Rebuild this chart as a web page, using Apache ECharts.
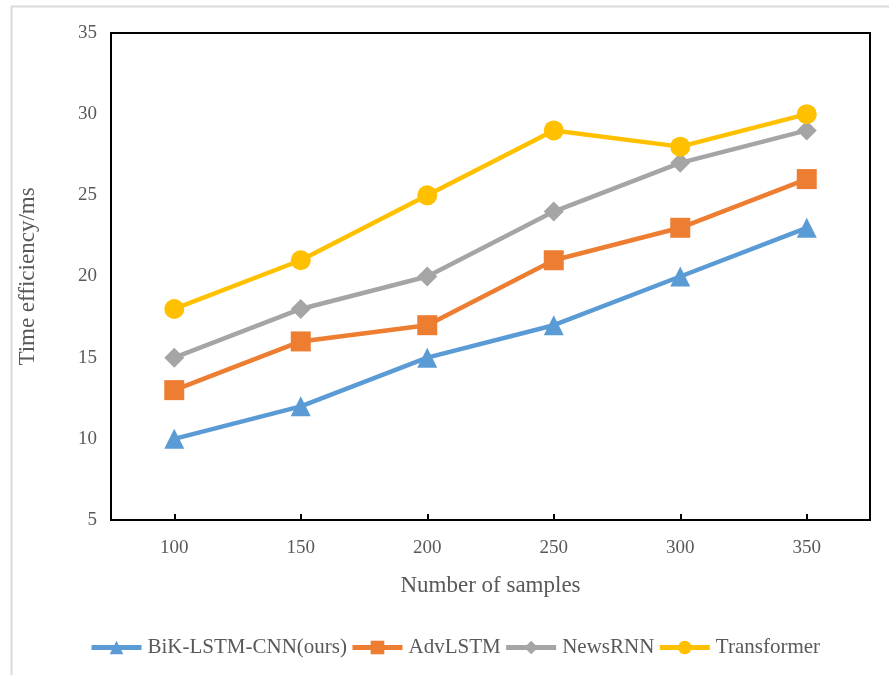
<!DOCTYPE html>
<html>
<head>
<meta charset="utf-8">
<script src="https://cdn.jsdelivr.net/npm/echarts@6/dist/echarts.min.js"></script>
<style>
  html, body { margin: 0; padding: 0; background: #fff; }
  #chart { width: 889px; height: 675px; }
</style>
</head>
<body>
<div id="chart"></div>
<script>
// Sample counts on the x axis
const categories = ['100', '150', '200', '250', '300', '350'];

// Time efficiency (ms) per model
const bikLstmCnn = [10, 12, 15, 17, 20, 23];
const advLstm = [13, 16, 17, 21, 23, 26];
const newsRnn = [15, 18, 20, 24, 27, 29];
const transformer = [18, 21, 25, 29, 28, 30];

const seriesNames = ['BiK-LSTM-CNN(ours)', 'AdvLSTM', 'NewsRNN', 'Transformer'];

const FONT = '"Liberation Serif", "Times New Roman", serif';
const TEXT_COLOR = '#595959';

const chart = echarts.init(document.getElementById('chart'));

function lineSeries(name, data, color, symbol, size) {
  return {
    name: name,
    type: 'line',
    data: data,
    symbol: symbol,
    symbolSize: size,
    lineStyle: { color: color, width: 4.5 },
    itemStyle: { color: color },
    z: 3
  };
}

chart.setOption({
  animation: false,
  backgroundColor: '#fff',
  graphic: [{
    type: 'rect',
    shape: { x: 11.5, y: 6.5, width: 900, height: 700 },
    style: { fill: 'none', stroke: '#d9d9d9', lineWidth: 2 },
    silent: true
  }],
  grid: {
    left: 111, top: 33, right: 19, bottom: 155,
    show: true, borderColor: '#000', borderWidth: 2,
    containLabel: false
  },
  legend: {
    bottom: 17,
    left: 89,
    padding: 0,
    itemWidth: 50,
    itemHeight: 17,
    itemGap: 3,
    lineStyle: { width: 5 },
    textStyle: { fontFamily: FONT, fontSize: 21, color: TEXT_COLOR, padding: [0, 0, 0, 1] },
    data: seriesNames
  },
  xAxis: {
    type: 'category',
    data: categories,
    boundaryGap: true,
    name: 'Number of samples',
    nameLocation: 'middle',
    nameGap: 54,
    nameTextStyle: { fontFamily: FONT, fontSize: 23, color: TEXT_COLOR },
    axisLine: { lineStyle: { color: '#000', width: 2 } },
    axisTick: { show: true, inside: true, alignWithLabel: true, length: 6, lineStyle: { color: '#000', width: 2 } },
    axisLabel: { fontFamily: FONT, fontSize: 19, color: TEXT_COLOR, margin: 19 },
    splitLine: { show: false }
  },
  yAxis: {
    type: 'value',
    min: 5,
    max: 35,
    interval: 5,
    name: 'Time efficiency/ms',
    nameLocation: 'middle',
    nameGap: 72,
    nameTextStyle: { fontFamily: FONT, fontSize: 23, color: TEXT_COLOR },
    axisLine: { show: true, lineStyle: { color: '#000', width: 2 } },
    axisTick: { show: false },
    axisLabel: { fontFamily: FONT, fontSize: 19, color: TEXT_COLOR, margin: 14 },
    splitLine: { show: false }
  },
  series: [
    lineSeries(seriesNames[0], bikLstmCnn, '#5B9BD5', 'triangle', 20),
    lineSeries(seriesNames[1], advLstm, '#ED7D31', 'rect', 20),
    lineSeries(seriesNames[2], newsRnn, '#A5A5A5', 'diamond', 20),
    lineSeries(seriesNames[3], transformer, '#FFC000', 'circle', 20)
  ]
});
</script>
</body>
</html>
